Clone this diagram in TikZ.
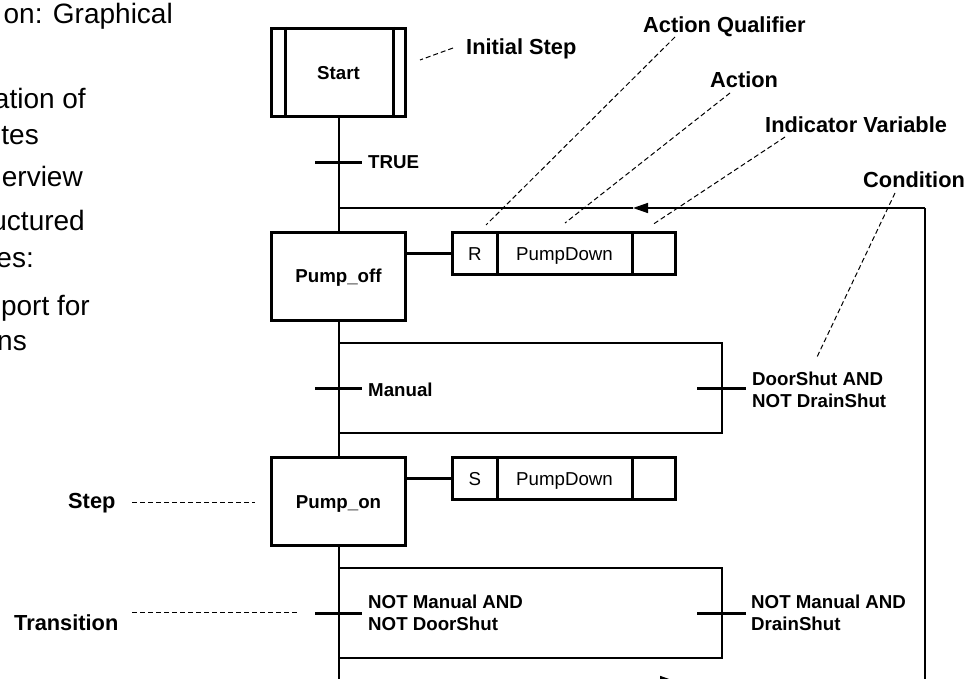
\documentclass[tikz,border=0pt]{standalone}
\usepackage{fontspec}
\setmainfont{Liberation Sans}
\usetikzlibrary{arrows.meta}
\begin{document}
\begin{tikzpicture}[x=1pt,y=-1pt,
  stepbox/.style={draw,line width=3pt,minimum width=134pt,minimum height=88pt,inner sep=0pt,
    font=\fontsize{18.7}{22}\selectfont\bfseries,text height=13.4pt,text depth=0pt},
  actcell/.style={draw,line width=3pt,minimum height=42pt,inner sep=0pt,
    font=\fontsize{18.7}{22}\selectfont,text height=13.4pt,text depth=0pt},
  flow/.style={line width=2pt},
  framel/.style={line width=1.5pt},
  tickl/.style={line width=3pt},
  link/.style={line width=3pt},
  lead/.style={line width=1pt,dash pattern=on 5pt off 3pt},
  cond/.style={font=\fontsize{18.7}{22}\selectfont\bfseries,inner sep=0pt,align=left},
  callout/.style={font=\fontsize{21.8}{26}\selectfont\bfseries,inner sep=0pt},
  bodytext/.style={font=\fontsize{28}{34}\selectfont,inner sep=0pt,anchor=base east},
  looptip/.style={-{Triangle[length=15pt,width=10pt]}}
]
\useasboundingbox (0,0) rectangle (974,679);
\clip (0,0) rectangle (974,679);

% left body text (cut off)
\node[bodytext] (b1) at (173,24) {on: Graphical};
\node[bodytext] (b2) at (86,109) {ation of};
\node[bodytext] (b3) at (39,145) {tes};
\node[bodytext] (b4) at (83,187) {erview};
\node[bodytext] (b5) at (85,230) {uctured};
\node[bodytext] (b6) at (34,267) {es:};
\node[bodytext] (b7) at (90,315) {port for};
\node[bodytext] (b8) at (27,350) {ns};

% steps
\node[stepbox] (start) at (338.5,72.5) {Start};
\draw[link] ([xshift=15pt]start.north west) -- ([xshift=15pt]start.south west);
\draw[link] ([xshift=-14pt]start.north east) -- ([xshift=-14pt]start.south east);
\node[stepbox] (off) at (338.5,276) {Pump\_off};
\node[stepbox] (on) at (338.5,501.5) {Pump\_on};

% actions
\node[actcell,minimum width=44.5pt] (q1) at (474.75,253.5) {R};
\node[actcell,minimum width=135pt] (a1) at (564.5,253.5) {PumpDown};
\node[actcell,minimum width=43.5pt] (i1) at (653.75,253.5) {};
\node[actcell,minimum width=44.5pt] (q2) at (474.75,478.5) {S};
\node[actcell,minimum width=135pt] (a2) at (564.5,478.5) {PumpDown};
\node[actcell,minimum width=43.5pt] (i2) at (653.75,478.5) {};
\draw[link] (off.east |- q1.west) -- (q1.west);
\draw[link] (on.east |- q2.west) -- (q2.west);

% loop frame
\coordinate (lt) at (338.5,208);
\coordinate (rt) at (925,208);
\coordinate (rb) at (925,681);
\coordinate (lb) at (338.5,681);
\coordinate (tipA) at (633,208);
\coordinate (tipB) at (675,681);
\draw[framel,looptip] (rt) -- (tipA);
\draw[framel] (tipA) -- (lt);
\draw[framel] (rt) -- (rb) -- (tipB);
\draw[framel,looptip] (lb) -- (tipB);

% main flow
\draw[flow] (start.south) -- (off.north);
\draw[flow] (off.south) -- (on.north);
\draw[flow] (on.south) -- (lb);

% transition frames
\coordinate (f1tl) at (338.5,343);
\coordinate (f1tr) at (722,343);
\coordinate (f1br) at (722,433);
\coordinate (f1bl) at (338.5,433);
\draw[framel] (f1tl) -- (f1tr) -- (f1br) -- (f1bl);
\coordinate (f2tl) at (338.5,568);
\coordinate (f2tr) at (722,568);
\coordinate (f2br) at (722,658);
\coordinate (f2bl) at (338.5,658);
\draw[framel] (f2tl) -- (f2tr) -- (f2br) -- (f2bl);

% transition ticks
\coordinate (t0) at (338.5,163);
\coordinate (t1) at (338.5,388);
\coordinate (t2) at (721.5,388);
\coordinate (t3) at (338.5,613);
\coordinate (t4) at (721.5,613);
\draw[tickl] ([xshift=-23.5pt]t0) -- ([xshift=23.5pt]t0);
\draw[tickl] ([xshift=-23.5pt]t1) -- ([xshift=23.5pt]t1);
\draw[tickl] ([xshift=-24.5pt]t2) -- ([xshift=24.5pt]t2);
\draw[tickl] ([xshift=-23.5pt]t3) -- ([xshift=23.5pt]t3);
\draw[tickl] ([xshift=-24.5pt]t4) -- ([xshift=24.5pt]t4);

% conditions
\node[cond,anchor=base west] (ctrue) at (368,169) {TRUE};
\node[cond,anchor=base west] (cman) at (368,396) {Manual};
\node[cond,anchor=north west] (cdoor) at (752,371.6) {DoorShut AND\\NOT DrainShut};
\node[cond,anchor=north west] (cnm1) at (368,594.6) {NOT Manual AND\\NOT DoorShut};
\node[cond,anchor=north west] (cnm2) at (751,594.6) {NOT Manual AND\\DrainShut};

% callouts
\node[callout,anchor=base west] (linit) at (466,55) {Initial Step};
\node[callout,anchor=base west] (lqual) at (643,33) {Action Qualifier};
\node[callout,anchor=base west] (lact) at (710,88) {Action};
\node[callout,anchor=base west] (lind) at (765,133) {Indicator Variable};
\node[callout,anchor=base west] (lcond) at (863,188) {Condition};
\node[callout,anchor=base west] (lstep) at (68,508) {Step};
\node[callout,anchor=base west] (ltrans) at (14,630) {Transition};

\coordinate (initA) at (453,48);   \coordinate (initB) at (420,60);
\coordinate (qualA) at (675,37);   \coordinate (qualB) at (486,225);
\coordinate (actA) at (730,93);    \coordinate (actB) at (565,223);
\coordinate (indA) at (785,137);   \coordinate (indB) at (652,225);
\coordinate (condA) at (895,193);  \coordinate (condB) at (817,357);
\coordinate (stepA) at (132,502);  \coordinate (stepB) at (255,502);
\coordinate (transA) at (132,612); \coordinate (transB) at (297,612);
\draw[lead] (initA) -- (initB);
\draw[lead] (qualA) -- (qualB);
\draw[lead] (actA) -- (actB);
\draw[lead] (indA) -- (indB);
\draw[lead] (condA) -- (condB);
\draw[lead] (stepA) -- (stepB);
\draw[lead] (transA) -- (transB);
\end{tikzpicture}
\end{document}
